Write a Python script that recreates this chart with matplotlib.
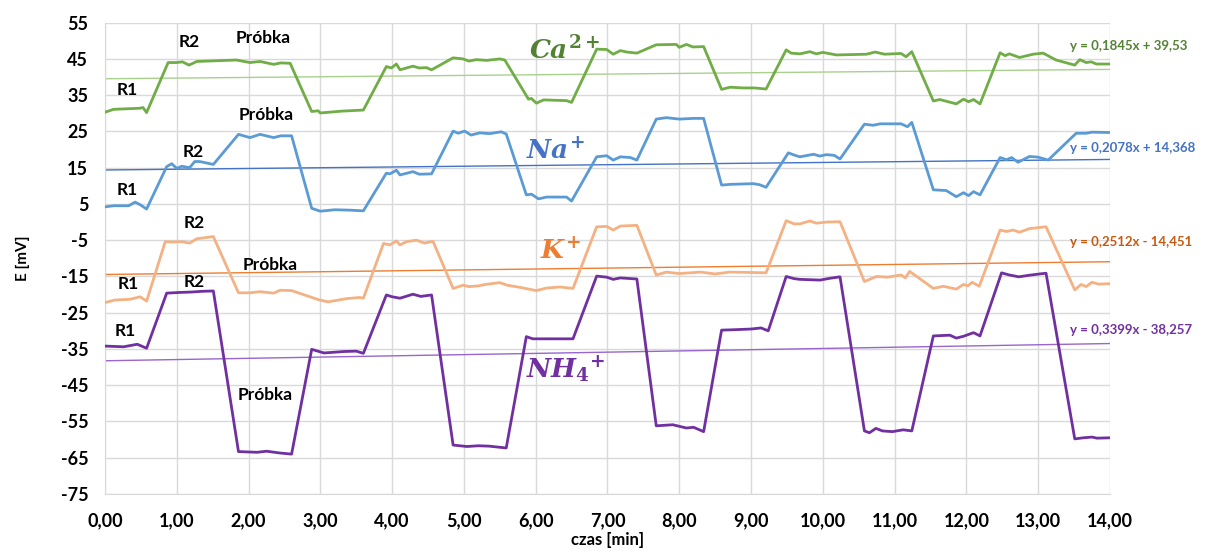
import matplotlib.pyplot as plt

plt.rcParams['font.family'] = ['Lato', 'DejaVu Sans']
plt.rcParams['font.weight'] = 'bold'
plt.rcParams['mathtext.fontset'] = 'dejavuserif'

# Ca2+ (green)
ca_t = [0, 0.12, 0.49, 0.53, 0.58, 0.88, 1.0, 1.08, 1.17, 1.28, 1.83, 2.02, 2.16, 2.35, 2.45, 2.58,
        2.88, 2.97, 3.0, 3.3, 3.6, 3.92, 3.99, 4.06, 4.11, 4.29, 4.38, 4.48, 4.55,
        4.85, 4.99, 5.07, 5.17, 5.32, 5.5, 5.57, 5.9, 5.94, 6.01, 6.11, 6.43, 6.5,
        6.85, 6.99, 7.08, 7.18, 7.27, 7.41, 7.68, 7.96, 8.0, 8.1, 8.19, 8.34,
        8.59, 8.71, 8.89, 9.05, 9.21, 9.49, 9.56, 9.68, 9.82, 9.91, 10.0, 10.19,
        10.61, 10.73, 10.86, 11.09, 11.16, 11.24, 11.54, 11.63, 11.86, 11.96, 12.03, 12.1, 12.19,
        12.47, 12.54, 12.6, 12.74, 12.93, 13.07, 13.25, 13.51, 13.58, 13.67, 13.74, 13.81, 14.0]
ca_v = [30.3, 31.1, 31.4, 31.6, 30.2, 44.0, 44.0, 44.2, 43.3, 44.3, 44.7, 44.0, 44.3, 43.5, 43.9, 43.8,
        30.5, 30.7, 30.1, 30.6, 30.9, 42.9, 42.5, 43.6, 42.0, 43.0, 42.5, 42.6, 42.0,
        45.3, 45.0, 44.4, 44.8, 44.6, 45.0, 44.7, 33.9, 34.1, 32.8, 33.7, 33.5, 33.0,
        47.7, 47.6, 46.3, 47.3, 46.9, 46.6, 48.9, 49.0, 48.2, 49.0, 48.3, 48.4,
        36.6, 37.2, 37.0, 37.0, 36.7, 47.5, 46.6, 46.4, 47.0, 46.4, 46.8, 46.1,
        46.3, 46.9, 46.3, 46.5, 45.6, 47.0, 33.4, 33.8, 32.6, 33.9, 33.2, 33.8, 32.6,
        46.7, 45.9, 46.4, 45.4, 46.3, 46.6, 44.7, 43.3, 44.8, 44.0, 44.2, 43.6, 43.6]

# Na+ (blue)
na_t = [0, 0.12, 0.33, 0.42, 0.49, 0.58, 0.86, 0.93, 1.0, 1.07, 1.18, 1.25, 1.32, 1.51,
        1.86, 2.02, 2.16, 2.35, 2.45, 2.6, 2.88, 3.0, 3.2, 3.4, 3.6, 3.92, 3.97, 4.06,
        4.11, 4.29, 4.38, 4.55, 4.85, 4.92, 5.01, 5.1, 5.22, 5.36, 5.52, 5.59,
        5.87, 5.94, 6.04, 6.15, 6.43, 6.5, 6.85, 6.99, 7.08, 7.18, 7.32, 7.41,
        7.68, 7.82, 8.0, 8.2, 8.34, 8.59, 8.71, 9.03, 9.12, 9.21, 9.52, 9.6,
        9.68, 9.87, 9.96, 10.05, 10.16, 10.24, 10.58, 10.7, 10.8, 11.09, 11.18, 11.24,
        11.54, 11.72, 11.86, 11.96, 12.03, 12.1, 12.19, 12.47, 12.56, 12.63, 12.72, 12.88, 13.0, 13.14,
        13.53, 13.67, 13.75, 14.0]
na_v = [4.2, 4.5, 4.5, 5.5, 4.8, 3.6, 15.3, 16.1, 14.8, 15.4, 15.0, 16.7, 16.7, 15.9,
        24.2, 23.3, 24.2, 23.3, 23.8, 23.8, 3.8, 3.0, 3.4, 3.3, 3.1, 13.5, 13.3, 14.3,
        13.0, 13.9, 13.2, 13.3, 25.1, 24.5, 25.1, 24.0, 24.6, 24.4, 24.9, 24.3,
        7.5, 7.7, 6.4, 6.9, 6.9, 5.8, 18.0, 18.3, 17.1, 18.0, 17.8, 17.1,
        28.4, 28.8, 28.4, 28.6, 28.6, 10.2, 10.4, 10.6, 10.3, 9.6, 19.1, 18.5,
        18.0, 18.7, 18.2, 18.6, 18.4, 17.4, 27.0, 26.7, 27.1, 27.1, 26.3, 27.5,
        8.9, 8.7, 7.0, 8.1, 7.3, 8.4, 7.5, 17.8, 17.2, 17.8, 16.5, 18.1, 17.9, 17.1,
        24.5, 24.5, 24.8, 24.7]

# K+ (orange)
k_t = [0, 0.14, 0.35, 0.49, 0.58, 0.84, 0.95, 1.07, 1.18, 1.28, 1.51,
       1.86, 2.02, 2.16, 2.35, 2.44, 2.6, 2.99, 3.11, 3.37, 3.55, 3.6,
       3.88, 3.97, 4.06, 4.11, 4.2, 4.34, 4.45, 4.57,
       4.85, 4.99, 5.07, 5.2, 5.3, 5.5, 5.6, 5.78, 6.01, 6.15, 6.34, 6.52,
       6.85, 6.99, 7.08, 7.18, 7.41, 7.68, 7.82, 8.0, 8.3, 8.5, 8.7, 9.0, 9.21,
       9.49, 9.6, 9.68, 9.82, 9.91, 10.05, 10.24,
       10.58, 10.75, 10.9, 11.09, 11.15, 11.21, 11.54, 11.68, 11.86, 11.96, 12.02, 12.08, 12.18,
       12.47, 12.56, 12.65, 12.74, 12.88, 13.11, 13.51, 13.6, 13.67, 13.75, 13.84, 14.0]
k_v = [-22.2, -21.5, -21.3, -20.6, -21.8, -5.4, -5.5, -5.4, -5.8, -4.6, -4.0,
       -19.5, -19.5, -19.2, -19.6, -18.8, -18.9, -21.5, -22.0, -21.1, -20.8, -21.0,
       -5.9, -6.3, -5.2, -6.3, -5.4, -5.0, -5.8, -5.3,
       -18.3, -17.4, -17.8, -17.6, -17.2, -16.7, -17.4, -18.0, -18.9, -18.2, -17.9, -18.3,
       -1.3, -1.2, -2.2, -1.1, -0.9, -14.6, -13.8, -14.2, -13.8, -14.3, -13.8, -13.9, -14.0,
       0.4, -0.5, -0.5, 0.3, -0.3, 0.0, 0.1,
       -16.4, -15.0, -15.2, -14.6, -15.4, -13.6, -18.3, -17.7, -18.5, -17.2, -17.6, -16.6, -17.7,
       -2.2, -2.6, -2.2, -2.8, -1.8, -1.3, -18.7, -17.2, -17.8, -16.6, -17.1, -17.0]

# NH4+ (purple)
nh4_t = [0, 0.26, 0.45, 0.58, 0.86, 1.05, 1.2, 1.35, 1.51,
         1.86, 2.12, 2.25, 2.44, 2.6, 2.88, 3.05, 3.33, 3.5, 3.6,
         3.92, 4.0, 4.11, 4.29, 4.4, 4.55, 4.85, 5.04, 5.2, 5.35, 5.59,
         5.87, 5.96, 6.2, 6.52, 6.85, 6.99, 7.08, 7.18, 7.41,
         7.68, 7.91, 8.1, 8.2, 8.34, 8.59, 8.75, 9.0, 9.14, 9.24,
         9.49, 9.6, 9.68, 9.96, 10.1, 10.24,
         10.58, 10.65, 10.74, 10.83, 10.97, 11.12, 11.24,
         11.54, 11.77, 11.86, 11.96, 12.1, 12.19,
         12.49, 12.6, 12.73, 12.9, 13.11, 13.51, 13.63, 13.75, 13.82, 14.0]
nh4_v = [-34.2, -34.4, -33.7, -34.8, -19.6, -19.4, -19.3, -19.1, -19.0,
         -63.3, -63.5, -63.2, -63.7, -64.0, -35.1, -36.1, -35.7, -35.6, -36.2,
         -20.1, -20.6, -21.0, -19.9, -20.5, -20.1, -61.5, -61.9, -61.7, -61.8, -62.3,
         -31.6, -32.2, -32.2, -32.2, -14.9, -15.2, -15.8, -15.4, -15.7,
         -56.2, -55.9, -56.8, -56.6, -57.8, -29.8, -29.7, -29.5, -29.2, -30.0,
         -15.0, -15.6, -15.8, -16.0, -15.5, -15.1,
         -57.6, -58.1, -56.9, -57.6, -57.8, -57.3, -57.6,
         -31.4, -31.2, -32.0, -31.5, -30.5, -31.4,
         -14.0, -14.6, -15.1, -14.6, -14.1, -59.8, -59.5, -59.3, -59.6, -59.5]

# trendline slope / intercept and the equations shown
slopes = [0.1845, 0.2078, 0.2512, 0.3399]
intercepts = [39.53, 14.368, -14.451, -38.257]
equations = ['y = 0,1845x + 39,53', 'y = 0,2078x + 14,368',
             'y = 0,2512x - 14,451', 'y = 0,3399x - 38,257']

x_ticks = [0, 1, 2, 3, 4, 5, 6, 7, 8, 9, 10, 11, 12, 13, 14]
x_labels = ['0,00', '1,00', '2,00', '3,00', '4,00', '5,00', '6,00', '7,00',
            '8,00', '9,00', '10,00', '11,00', '12,00', '13,00', '14,00']
y_ticks = list(range(-75, 56, 10))

labels = [
    ('R1', 0.31, 36.4), ('R2', 1.18, 49.7), ('Próbka', 2.2, 50.8),
    ('R1', 0.31, 8.8), ('R2', 1.23, 19.3), ('Próbka', 2.24, 29.5),
    ('R2', 1.25, -0.3), ('Próbka', 2.3, -11.9), ('R1', 0.32, -17.1),
    ('R1', 0.28, -30.1), ('R2', 1.25, -16.6), ('Próbka', 2.23, -47.7),
]
ions = [
    (r'$\boldsymbol{Ca^{2+}}$', 6.41, 47.6),
    (r'$\boldsymbol{Na^{+}}$', 6.27, 19.8),
    (r'$\boldsymbol{K^{+}}$', 6.34, -7.8),
    (r'$\boldsymbol{NH_4{}^{+}}$', 6.41, -40.9),
]

line_colors = ['#70ad47', '#5b9bd5', '#f4b183', '#7030a0']
trend_colors = ['#a9d18e', '#4472c4', '#ed7d31', '#9966cc']
text_colors = ['#548235', '#4472c4', '#c55a11', '#7030a0']
ion_colors = ['#548235', '#4472c4', '#ed7d31', '#7030a0']
eq_y = [48.7, 20.4, -5.5, -29.8]

fig = plt.figure(figsize=(12.05, 5.53), dpi=100)
ax = fig.add_axes([0.0871, 0.1067, 0.8340, 0.8523])

all_t = [ca_t, na_t, k_t, nh4_t]
all_v = [ca_v, na_v, k_v, nh4_v]
for i in range(4):
    a, b = slopes[i], intercepts[i]
    ax.plot([0, 14], [b, a * 14 + b], color=trend_colors[i], lw=1.0, zorder=2)
    ax.plot(all_t[i], all_v[i], color=line_colors[i], lw=2.0, zorder=3)
    ax.text(13.44, eq_y[i], equations[i], color=text_colors[i], fontsize=9.5,
            fontweight='bold', ha='left', va='center', clip_on=False)

for s, x, y in labels:
    ax.text(x, y, s, fontsize=12.5, fontweight='bold', ha='center', va='center', color='black')

for (s, x, y), c in zip(ions, ion_colors):
    ax.text(x, y, s, fontsize=19, color=c, ha='center', va='center')

ax.set_xlim(0, 14)
ax.set_ylim(-75, 55)
ax.set_xticks(x_ticks)
ax.set_xticklabels(x_labels, fontsize=13, fontweight='bold')
ax.set_yticks(y_ticks)
ax.set_yticklabels([str(v) for v in y_ticks], fontsize=13, fontweight='bold')
ax.tick_params(axis='y', length=0, pad=12)
ax.tick_params(axis='x', length=0, pad=13)
ax.grid(True, color='#d9d9d9', lw=1.0)
ax.set_axisbelow(True)
for side in ['top', 'right']:
    ax.spines[side].set_visible(False)
for side in ['left', 'bottom']:
    ax.spines[side].set_color('#d9d9d9')
ax.set_xlabel('czas [min]', fontsize=12, fontweight='bold', labelpad=2)
ax.set_ylabel('E [mV]', fontsize=11, fontweight='bold', labelpad=22)

fig.savefig('out.png', dpi=100)
